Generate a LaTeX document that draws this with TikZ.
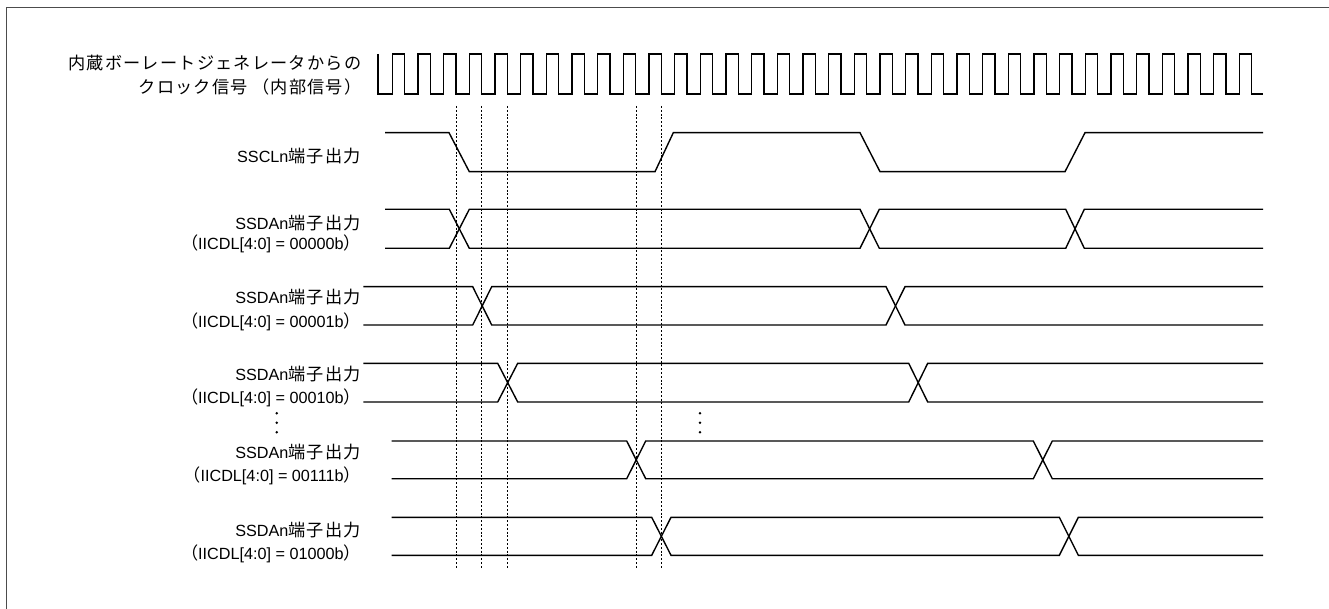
\documentclass[tikz,border=0pt]{standalone}
\usepackage{fontspec}
\setmainfont{Liberation Sans}
\newfontfamily\cjk{Noto Sans CJK JP}[Scale=1.06,LetterSpace=7]
\begin{document}
\begin{tikzpicture}[x=1pt,y=-1pt,line join=miter,
  sig/.style={line width=1.4pt},
  clk/.style={line width=1.4pt},
  guide/.style={line width=1.2pt,dash pattern=on 2pt off 1.8pt},
  frameline/.style={line width=1pt,draw=black!70},
  lbl/.style={inner sep=0pt,anchor=base east,font=\fontsize{16.2}{18}\selectfont}]
\useasboundingbox (0,0) rectangle (1329,609);
% frame
\draw[frameline] (6.5,609) -- (6.5,7.5) -- (1329,7.5);
% labels
\node[lbl] (c1) at (361.5,69.5) {\cjk 内蔵ボーレートジェネレータからの};
\node[lbl] (c2) at (361.5,94) {{\cjk クロック信号} {\cjk （内部信号）}};
\node[lbl] (scl) at (361,162.5) {SSCLn{\cjk 端子出力}};
\node[lbl] (a1) at (361,229.5) {SSDAn{\cjk 端子出力}};
\node[lbl] (a2) at (361,249.5) {{\cjk （}IICDL[4:0] = 00000b{\cjk ）}};
\node[lbl] (b1) at (361,304) {SSDAn{\cjk 端子出力}};
\node[lbl] (b2) at (361,327) {{\cjk （}IICDL[4:0] = 00001b{\cjk ）}};
\node[lbl] (d1) at (361,380.5) {SSDAn{\cjk 端子出力}};
\node[lbl] (d2) at (361,403.5) {{\cjk （}IICDL[4:0] = 00010b{\cjk ）}};
\node[lbl] (e1) at (361,458) {SSDAn{\cjk 端子出力}};
\node[lbl] (e2) at (361,481) {{\cjk （}IICDL[4:0] = 00111b{\cjk ）}};
\node[lbl] (f1) at (361,536.5) {SSDAn{\cjk 端子出力}};
\node[lbl] (f2) at (361,559) {{\cjk （}IICDL[4:0] = 01000b{\cjk ）}};
% clock
\draw[clk] (378,54) -- (378,94)
  foreach \k in {0,...,33} { -- ({392.3+\k*25.667},94) -- ++(0,-40) -- ++(12.3,0) -- ++(0,40) }
  -- (1263,94);
% guide lines
\foreach \gx in {456.5,481.5,507.5,636.5,661.5}
  \draw[guide] (\gx,106) -- (\gx,568);
% SSCL
\draw[sig] (385,132.7) -- (449,132.7) -- (469.3,171.7) -- (655,171.7) -- (673.3,132.7)
  -- (860,132.7) -- (880,171.7) -- (1065,171.7) -- (1085,132.7) -- (1263,132.7);
% SSDA row 0
\draw[sig] (385,209.3) -- (449.3,209.3) -- (469.3,248.3) -- (860,248.3) -- (879.3,209.3)
  -- (1065.7,209.3) -- (1084.3,248.3) -- (1263,248.3);
\draw[sig] (385,248.3) -- (449.3,248.3) -- (469.3,209.3) -- (860,209.3) -- (879.3,248.3)
  -- (1065.7,248.3) -- (1084.3,209.3) -- (1263,209.3);
% SSDA row 1
\draw[sig] (363.3,286.7) -- (472.7,286.7) -- (491.7,325) -- (886,325) -- (905,286.7) -- (1263,286.7);
\draw[sig] (363.3,325) -- (472.7,325) -- (491.7,286.7) -- (886,286.7) -- (905,325) -- (1263,325);
% SSDA row 2
\draw[sig] (363.3,363.3) -- (497.7,363.3) -- (517.7,402) -- (908.7,402) -- (927.7,363.3) -- (1263,363.3);
\draw[sig] (363.3,402) -- (497.7,402) -- (517.7,363.3) -- (908.7,363.3) -- (927.7,402) -- (1263,402);
% SSDA row 3
\draw[sig] (391.7,441) -- (626.7,441) -- (645.7,478.7) -- (1033.3,478.7) -- (1052.3,441) -- (1263,441);
\draw[sig] (391.7,478.7) -- (626.7,478.7) -- (645.7,441) -- (1033.3,441) -- (1052.3,478.7) -- (1263,478.7);
% SSDA row 4
\draw[sig] (391.7,517.3) -- (651.7,517.3) -- (671,555.3) -- (1059.3,555.3) -- (1078.3,517.3) -- (1263,517.3);
\draw[sig] (391.7,555.3) -- (651.7,555.3) -- (671,517.3) -- (1059.3,517.3) -- (1078.3,555.3) -- (1263,555.3);
% ellipsis dots
\foreach \dy in {413.3,422.8,432.3} {
  \fill (276.7,\dy) circle[radius=1.4pt];
  \fill (700,\dy) circle[radius=1.4pt];
}
\end{tikzpicture}
\end{document}
